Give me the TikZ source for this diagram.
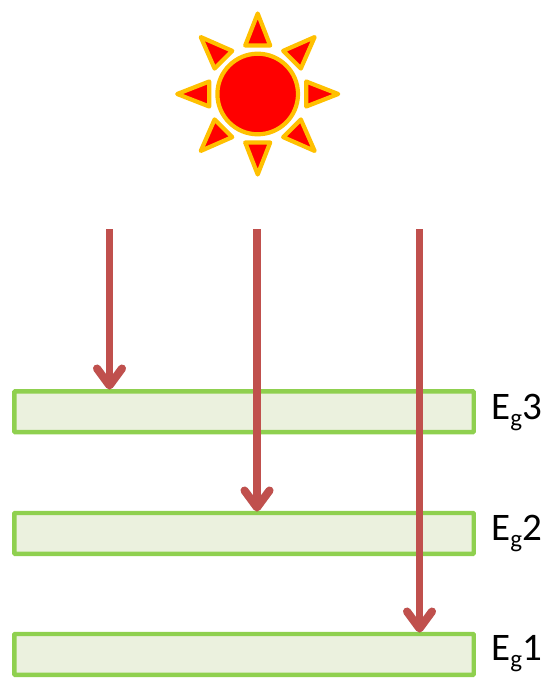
\documentclass[tikz,border=0pt]{standalone}
\usepackage{fontspec}
\setmainfont{Carlito}
\usetikzlibrary{arrows.meta}
\definecolor{sunfill}{HTML}{FF0000}
\definecolor{sunline}{HTML}{FFC000}
\definecolor{barfill}{HTML}{EBF1DE}
\definecolor{barline}{HTML}{8FD04F}
\definecolor{ray}{HTML}{C0504D}
\newcommand{\eglabel}[1]{E\raisebox{-7pt}{\fontsize{25}{25}\selectfont g}#1}
\tikzset{
  bandbar/.style={draw=barline,fill=barfill,line width=4.4pt,rounded corners=0.8pt,inner sep=0pt,outer sep=0pt,minimum width=459.4pt,minimum height=40.8pt},
  bandlabel/.style={anchor=west,inner sep=0pt,text=black,font=\fontsize{39}{41}\selectfont},
  sunpart/.style={draw=sunline,fill=sunfill,line width=4.2pt,line join=round},
  rayline/.style={draw=ray,line width=7.5pt,-{Straight Barb[length=17pt,width=25pt,round,line width=8pt]},shorten >=0.5pt},
  rayshadow/.style={rayline,draw=black,opacity=0.14,xshift=0.8pt,yshift=-1.6pt}
}
\begin{document}
\begin{tikzpicture}[x=1pt,y=-1pt]
\useasboundingbox (0,0) rectangle (544,679);
% sun
\begin{scope}[shift={(257.7,94)}]
  \draw[sunpart] (0,0) circle (40.3pt);
  \foreach \a in {0,45,...,315}{
    \draw[sunpart,rotate=\a] (0,-80.5) -- (12.5,-48.5) -- (-12.5,-48.5) -- cycle;
  }
\end{scope}
% bands
\node[bandbar] (b3) at (244,411.7) {};
\node[bandbar] (b2) at (244,533.4) {};
\node[bandbar] (b1) at (244,654.4) {};
\node[bandlabel] (l3) at (491,412) {\eglabel{3}};
\node[bandlabel] (l2) at (491,533) {\eglabel{2}};
\node[bandlabel] (l1) at (491,654) {\eglabel{1}};
% rays
\coordinate (s3) at (109.5,229);
\coordinate (s2) at (257,229);
\coordinate (s1) at (419.5,229);
\coordinate (e3) at (109.5,390);
\coordinate (e2) at (257,512);
\coordinate (e1) at (419.5,633);
\draw[rayshadow] (s3) -- (e3);
\draw[rayshadow] (s2) -- (e2);
\draw[rayshadow] (s1) -- (e1);
\draw[rayline] (s3) -- (e3);
\draw[rayline] (s2) -- (e2);
\draw[rayline] (s1) -- (e1);
\end{tikzpicture}
\end{document}
